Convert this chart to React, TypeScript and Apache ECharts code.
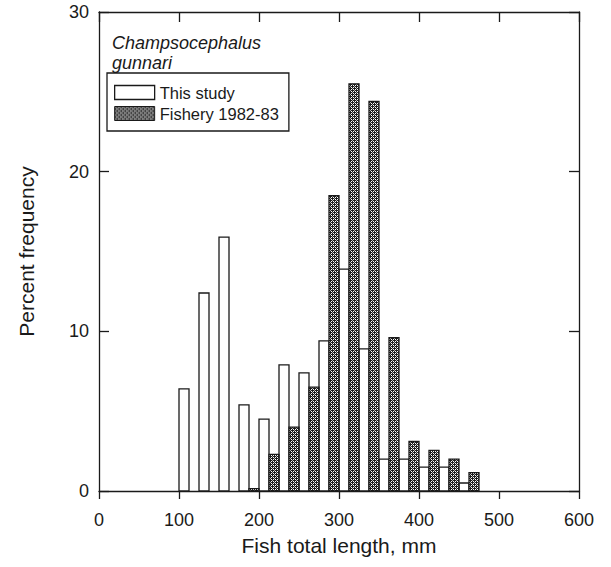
import React, { useEffect, useRef } from "react";
import * as echarts from "echarts";

const binStarts = [100, 125, 150, 175, 200, 225, 250, 275, 300, 325, 350, 375, 400, 425, 450];
const thisStudy = [6.4, 12.4, 15.9, 5.4, 4.5, 7.9, 7.4, 9.4, 13.9, 8.9, 2.0, 2.0, 1.5, 1.5, 0.5];
const fishery = [0, 0, 0, 0.15, 2.3, 4.0, 6.5, 18.5, 25.5, 24.4, 9.6, 3.1, 2.55, 2.0, 1.15];
const xTicks = [0, 100, 200, 300, 400, 500, 600];
const yTicks = [0, 10, 20, 30];
const halfBin = 12.5;
const seriesNames = ["This study", "Fishery 1982-83"];

const FONT = "'Liberation Sans', Arial, Helvetica, sans-serif";
const INK = "#1a1a1a";

function makePattern() {
  const c = document.createElement("canvas");
  c.width = 4;
  c.height = 4;
  const ctx = c.getContext("2d")!;
  ctx.fillStyle = "#1c1c1c";
  ctx.fillRect(0, 0, 4, 4);
  ctx.fillStyle = "#ffffff";
  ctx.fillRect(1, 1, 1, 1);
  ctx.fillRect(3, 3, 1, 1);
  ctx.fillRect(1, 3, 1, 1);
  ctx.fillRect(3, 1, 1, 1);
  ctx.fillStyle = "#b0b0b0";
  ctx.fillRect(0, 0, 1, 1);
  ctx.fillRect(2, 2, 1, 1);
  return { image: c.toDataURL(), repeat: "repeat", imageWidth: 4, imageHeight: 4 } as any;
}

export default function App() {
  const ref = useRef<HTMLDivElement>(null);
  useEffect(() => {
    document.body.style.margin = "0";
    const chart = echarts.init(ref.current!, null, { renderer: "svg" });
    const pattern = makePattern();
    const mkRender = (fill: any) => (params: any, api: any) => {
      const x0 = api.value(0);
      const v = api.value(1);
      if (!v) return null;
      const p0 = api.coord([x0, v]);
      const p1 = api.coord([x0 + halfBin, 0]);
      return {
        type: "rect",
        shape: { x: p0[0], y: p0[1], width: p1[0] - p0[0], height: p1[1] - p0[1] },
        style: { fill, stroke: INK, lineWidth: 1.3 },
      };
    };
    const axisLine = { show: true, onZero: false, lineStyle: { color: INK, width: 1.3 } };
    chart.setOption({
      animation: false,
      grid: { left: 99, right: 32, top: 12, bottom: 76 },
      title: {
        text: "Champsocephalus\ngunnari",
        left: 112,
        top: 33,
        padding: 0,
        textStyle: { fontFamily: FONT, fontStyle: "italic", fontWeight: "normal", fontSize: 18, lineHeight: 20, color: INK },
      },
      legend: {
        orient: "vertical",
        left: 107,
        top: 73,
        padding: [11, 10, 9, 7],
        itemGap: 4,
        itemWidth: 40,
        itemHeight: 14,
        itemTextGap: 9,
        borderColor: INK,
        borderWidth: 1.3,
        borderRadius: 0,
        icon: "rect",
        textStyle: { fontFamily: FONT, fontSize: 16.5, color: INK },
        data: [
          { name: seriesNames[0], itemStyle: { color: "#ffffff", borderColor: INK, borderWidth: 1.3 } },
          { name: seriesNames[1], itemStyle: { color: pattern, borderColor: INK, borderWidth: 1 } },
        ],
      },
      xAxis: [
        {
          type: "value",
          position: "bottom",
          min: 0,
          max: 600,
          interval: 100,
          name: "Fish total length, mm",
          nameLocation: "middle",
          nameGap: 44,
          nameTextStyle: { fontFamily: FONT, fontSize: 21, color: INK },
          axisLine,
          axisTick: { show: true, inside: false, length: 8, lineStyle: { color: INK, width: 1.3 } },
          axisLabel: {
            fontFamily: FONT,
            fontSize: 18,
            color: INK,
            margin: 20,
            customValues: xTicks,
          },
          splitLine: { show: false },
        },
        {
          type: "value",
          position: "top",
          min: 0,
          max: 600,
          interval: 100,
          axisLine,
          axisTick: { show: true, inside: true, length: 10, lineStyle: { color: INK, width: 1.3 } },
          axisLabel: { show: false },
          splitLine: { show: false },
        },
      ],
      yAxis: [
        {
          type: "value",
          position: "left",
          min: 0,
          max: 30,
          interval: 10,
          name: "Percent frequency",
          nameLocation: "middle",
          nameGap: 62,
          nameTextStyle: { fontFamily: FONT, fontSize: 21, color: INK },
          axisLine,
          axisTick: { show: true, inside: true, length: 10, lineStyle: { color: INK, width: 1.3 } },
          axisLabel: { fontFamily: FONT, fontSize: 18, color: INK, margin: 10, customValues: yTicks },
          splitLine: { show: false },
        },
        {
          type: "value",
          position: "right",
          min: 0,
          max: 30,
          interval: 10,
          axisLine,
          axisTick: { show: true, inside: true, length: 10, lineStyle: { color: INK, width: 1.3 } },
          axisLabel: { show: false },
          splitLine: { show: false },
        },
      ],
      series: [
        {
          name: seriesNames[0],
          type: "custom",
          xAxisIndex: 0,
          yAxisIndex: 0,
          itemStyle: { color: "#ffffff", borderColor: INK, borderWidth: 1.3 },
          renderItem: mkRender("#ffffff"),
          data: binStarts.map((b, i) => [b, thisStudy[i]]),
        },
        {
          name: seriesNames[1],
          type: "custom",
          xAxisIndex: 0,
          yAxisIndex: 0,
          itemStyle: { color: pattern, borderColor: INK, borderWidth: 1 },
          renderItem: mkRender(pattern),
          data: binStarts.map((b, i) => [b + halfBin, fishery[i]]),
        },
      ],
    });
    return () => chart.dispose();
  }, []);
  return <div ref={ref} style={{ width: 611, height: 567 }} />;
}
